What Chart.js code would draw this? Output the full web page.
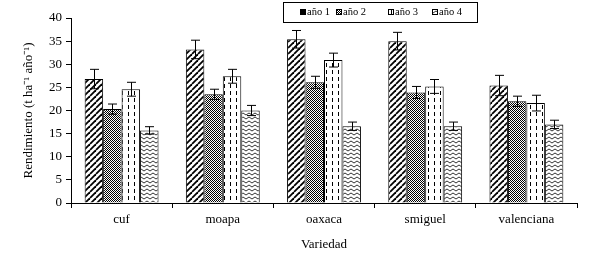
<!DOCTYPE html>
<html>
<head>
<meta charset="utf-8">
<script src="https://cdn.jsdelivr.net/npm/chart.js@4"></script>
<style>
  body { margin: 0; background: #fff; }
  #wrap { position: relative; width: 590px; height: 256px; }
  #leyenda { position: absolute; left: 283px; top: 2px; width: 193px; height: 19px;
    border: 1px solid #000; font-family: "Liberation Serif", serif; font-size: 10.5px; }
  .item { position: absolute; top: 3px; display: flex; align-items: center; white-space: nowrap; }
  .item canvas { width: 4px; height: 4px; border: 1px solid #000; margin-right: 1px; }
</style>
</head>
<body>
<div id="wrap">
  <canvas id="grafico" width="590" height="256"></canvas>
  <div id="leyenda"></div>
</div>
<script>
const variedades = ['cuf', 'moapa', 'oaxaca', 'smiguel', 'valenciana']
const anios = ['año 1', 'año 2', 'año 3', 'año 4']

const anio1 = [26.8, 33.2, 35.4, 35.0, 25.4]
const anio2 = [20.3, 23.5, 26.1, 23.9, 22.0]
const anio3 = [24.6, 27.4, 30.9, 25.2, 21.6]
const anio4 = [15.7, 20.0, 16.6, 16.6, 17.0]

const error1 = [2.1, 2.0, 1.9, 1.9, 2.2]
const error2 = [1.1, 1.1, 1.3, 1.3, 1.1]
const error3 = [1.5, 1.5, 1.5, 1.5, 1.7]
const error4 = [0.8, 1.1, 0.9, 0.9, 0.9]

const yTicks = [0, 5, 10, 15, 20, 25, 30, 35, 40]

// patrones de relleno
function patronDiagonal() {
    const c = document.createElement('canvas');
    c.width = 6; c.height = 6;
    const g = c.getContext('2d');
    g.fillStyle = '#fff'; g.fillRect(0, 0, 6, 6);
    g.strokeStyle = '#000'; g.lineWidth = 1.8;
    for (let k = -6; k <= 12; k += 6) {
        g.beginPath(); g.moveTo(k, 6); g.lineTo(k + 6, 0); g.stroke();
    }
    return c;
}

function patronPuntos() {
    const c = document.createElement('canvas');
    c.width = 2; c.height = 2;
    const g = c.getContext('2d');
    g.fillStyle = '#fff'; g.fillRect(0, 0, 2, 2);
    g.fillStyle = '#000';
    g.fillRect(0, 0, 1, 1); g.fillRect(1, 1, 1, 1);
    return c;
}

function patronRayas() {
    const c = document.createElement('canvas');
    c.width = 6; c.height = 7;
    const g = c.getContext('2d');
    g.fillStyle = '#fff'; g.fillRect(0, 0, 6, 7);
    g.fillStyle = '#000'; g.fillRect(2, 0, 1, 4);
    return c;
}

function patronOndas() {
    const c = document.createElement('canvas');
    c.width = 6; c.height = 4;
    const g = c.getContext('2d');
    g.fillStyle = '#fff'; g.fillRect(0, 0, 6, 4);
    g.strokeStyle = '#000'; g.lineWidth = 0.8;
    g.beginPath(); g.moveTo(0, 3); g.lineTo(3, 1); g.lineTo(6, 3); g.stroke();
    return c;
}

const ctx = document.getElementById('grafico').getContext('2d');
const texturas = [patronDiagonal(), patronPuntos(), patronRayas(), patronOndas()];
const patrones = texturas.map(t => ctx.createPattern(t, 'repeat'));

const valores = [anio1, anio2, anio3, anio4];
const errores = [error1, error2, error3, error4];

// leyenda con recuadro
const posLeyenda = [16, 52, 104, 148];
const leyenda = document.getElementById('leyenda');
anios.forEach((a, i) => {
    const item = document.createElement('div');
    item.className = 'item';
    item.style.left = posLeyenda[i] + 'px';
    const ic = document.createElement('canvas');
    ic.width = 4; ic.height = 4;
    const ig = ic.getContext('2d');
    ig.fillStyle = i === 0 ? '#000' : ig.createPattern(texturas[i], 'repeat');
    ig.fillRect(0, 0, 4, 4);
    const txt = document.createElement('span');
    txt.textContent = a;
    item.appendChild(ic);
    item.appendChild(txt);
    leyenda.appendChild(item);
});

const barrasError = {
    id: 'barrasError',
    afterDatasetsDraw(chart) {
        const g = chart.ctx;
        const y = chart.scales.y;
        g.save();
        g.strokeStyle = '#000';
        g.lineWidth = 1;
        chart.data.datasets.forEach((ds, i) => {
            const meta = chart.getDatasetMeta(i);
            meta.data.forEach((bar, j) => {
                const v = ds.data[j], e = errores[i][j];
                const x = Math.round(bar.x) + 0.5;
                const y1 = y.getPixelForValue(v + e), y2 = y.getPixelForValue(v - e);
                g.beginPath();
                g.moveTo(x, y1); g.lineTo(x, y2);
                g.moveTo(x - 4.5, y1); g.lineTo(x + 4.5, y1);
                g.moveTo(x - 4.5, y2); g.lineTo(x + 4.5, y2);
                g.stroke();
            });
        });
        g.restore();
    }
};

const fuente = { family: '"Liberation Serif", serif', size: 13 };

new Chart(ctx, {
    type: 'bar',
    data: {
        labels: variedades,
        datasets: anios.map((a, i) => ({
            label: a,
            data: valores[i],
            backgroundColor: patrones[i],
            borderColor: '#000',
            borderWidth: 1,
            categoryPercentage: 0.73,
            barPercentage: 1
        }))
    },
    options: {
        responsive: false,
        animation: false,
        layout: { padding: { top: 18, right: 13, left: 0, bottom: 0 } },
        plugins: { legend: { display: false }, tooltip: { enabled: false } },
        scales: {
            x: {
                grid: { drawOnChartArea: false, drawTicks: true, tickLength: 5, color: '#000' },
                border: { color: '#000' },
                ticks: { color: '#000', font: fuente, padding: 4 },
                title: { display: true, text: 'Variedad', color: '#000', font: fuente, padding: { top: 3 } },
                afterFit: s => { s.height = 53; }
            },
            y: {
                min: 0, max: 40,
                afterBuildTicks: s => { s.ticks = yTicks.map(v => ({ value: v })); },
                grid: { drawOnChartArea: false, drawTicks: true, tickLength: 5, color: '#000' },
                border: { color: '#000' },
                ticks: { color: '#000', font: fuente, padding: 4 },
                title: { display: true, text: 'Rendimiento (t ha⁻¹ año⁻¹)', color: '#000', font: fuente, padding: { top: 21, bottom: 0 } },
                afterFit: s => { s.width = 71; }
            }
        }
    },
    plugins: [barrasError]
});
</script>
</body>
</html>
